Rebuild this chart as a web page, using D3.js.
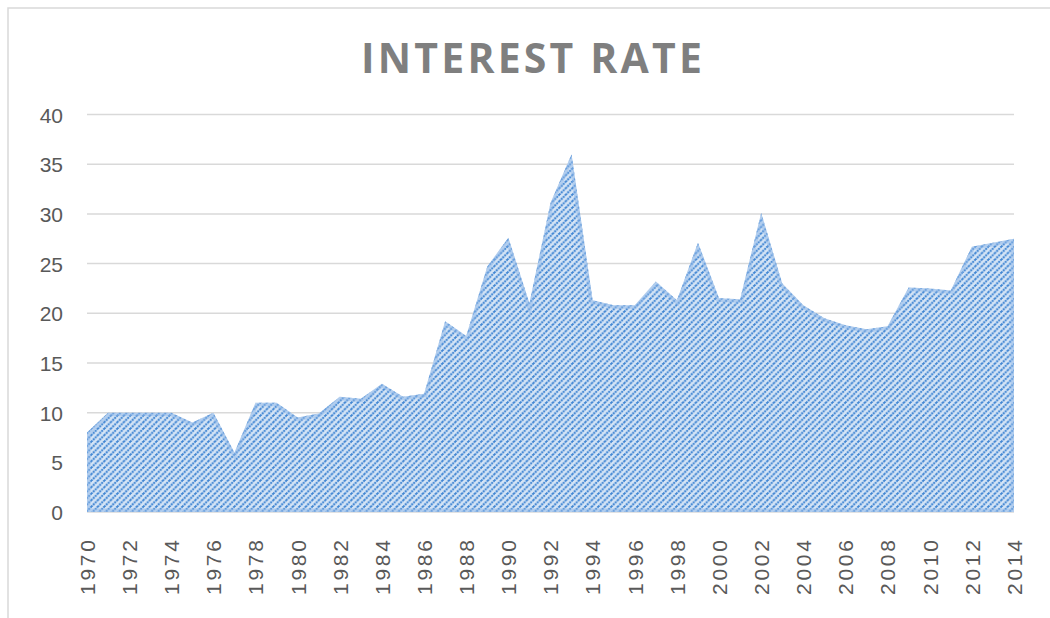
<!DOCTYPE html>
<html><head><meta charset="utf-8">
<script src="https://cdn.jsdelivr.net/npm/d3@7/dist/d3.min.js"></script>
<style>
html,body{margin:0;padding:0;background:#fff;}
svg{display:block;}
</style></head>
<body>
<svg id="chart" width="1050" height="618"></svg>
<script>
const titleText = "INTEREST RATE";
const years = [1970,1971,1972,1973,1974,1975,1976,1977,1978,1979,1980,1981,1982,1983,1984,1985,1986,1987,1988,1989,1990,1991,1992,1993,1994,1995,1996,1997,1998,1999,2000,2001,2002,2003,2004,2005,2006,2007,2008,2009,2010,2011,2012,2013,2014];
const rates = [8.0,10.0,10.0,10.0,10.0,9.0,10.0,6.0,11.0,11.0,9.5,9.9,11.6,11.4,12.9,11.6,11.9,19.2,17.7,24.7,27.6,21.0,31.1,36.0,21.3,20.8,20.8,23.2,21.3,27.1,21.5,21.4,30.1,23.0,20.8,19.5,18.8,18.4,18.7,22.6,22.5,22.3,26.7,27.1,27.5];
const yTicks = [0,5,10,15,20,25,30,35,40];
const xTickYears = [1970,1972,1974,1976,1978,1980,1982,1984,1986,1988,1990,1992,1994,1996,1998,2000,2002,2004,2006,2008,2010,2012,2014];

const svg = d3.select("#chart");
const pLeft = 87, pRight = 1014, pTop = 114.5, pBottom = 512;

// outer frame (only left and top edges fall inside the picture)
svg.append("rect").attr("x",8).attr("y",8).attr("width",1070).attr("height",640)
  .attr("fill","none").attr("stroke","#d9d9d9").attr("stroke-width",1.5);

const x = d3.scaleLinear().domain([1970,2014]).range([pLeft,pRight]);
const y = d3.scaleLinear().domain([0,40]).range([pBottom,pTop]);

// pattern
const defs = svg.append("defs");
const P = 6.5;
const pat = defs.append("pattern").attr("id","hatch").attr("patternUnits","userSpaceOnUse")
  .attr("width",P).attr("height",P);
pat.append("rect").attr("width",P).attr("height",P).attr("fill","#d6e5f6");
pat.append("path").attr("d",`M-1,1 L1,-1 M0,${P} L${P},0 M${P-1},${P+1} L${P+1},${P-1}`)
  .attr("stroke","#4186d3").attr("stroke-width",2.1).attr("stroke-dasharray","2,0.8");

// gridlines
svg.append("g").selectAll("line").data(yTicks).join("line")
  .attr("x1",pLeft).attr("x2",pRight).attr("y1",d=>y(d)).attr("y2",d=>y(d))
  .attr("stroke","#d9d9d9").attr("stroke-width",1.5);

// y axis labels
const yAxis = d3.axisLeft(y).tickValues(yTicks).tickSize(0).tickPadding(0);
const yg = svg.append("g").attr("transform",`translate(63,0)`).call(yAxis);
yg.select(".domain").remove();
yg.selectAll("text").attr("font-family","Liberation Sans, Arial, sans-serif")
  .attr("font-size",21).attr("fill","#595959").attr("dy","0.36em");

// area
const data = years.map((yr,i)=>({yr, v:rates[i]}));
const area = d3.area().x(d=>x(d.yr)).y0(y(0)).y1(d=>y(d.v));
const areaPath = area(data);
defs.append("clipPath").attr("id","aclip").append("path").attr("d",areaPath);
svg.append("path").attr("d",areaPath).attr("fill","url(#hatch)");
// soft inner edge
svg.append("path").attr("d",areaPath).attr("fill","none")
  .attr("stroke","#8fb8e8").attr("stroke-opacity",0.5).attr("stroke-width",7)
  .attr("clip-path","url(#aclip)");

// x axis labels
const xAxis = d3.axisBottom(x).tickValues(xTickYears).tickSize(0).tickFormat(d3.format("d"));
const xg = svg.append("g").attr("transform",`translate(0,${pBottom})`).call(xAxis);
xg.select(".domain").remove();
xg.selectAll("text")
  .attr("font-family","Liberation Sans, Arial, sans-serif").attr("font-size",21).attr("fill","#595959")
  .attr("text-anchor","end").attr("y",0).attr("x",0)
  .attr("transform","translate(0,28) rotate(-90)").attr("dy","0.35em")
  .attr("textLength",55).attr("lengthAdjust","spacing");

// title
svg.append("text").attr("x",(361+702)/2).attr("y",73).attr("text-anchor","middle")
  .attr("font-family","Open Sans, Liberation Sans, sans-serif").attr("font-weight","bold")
  .attr("font-size",41).attr("fill","#7f7f7f")
  .attr("textLength",341).attr("lengthAdjust","spacing")
  .text(titleText);
</script>
</body></html>
